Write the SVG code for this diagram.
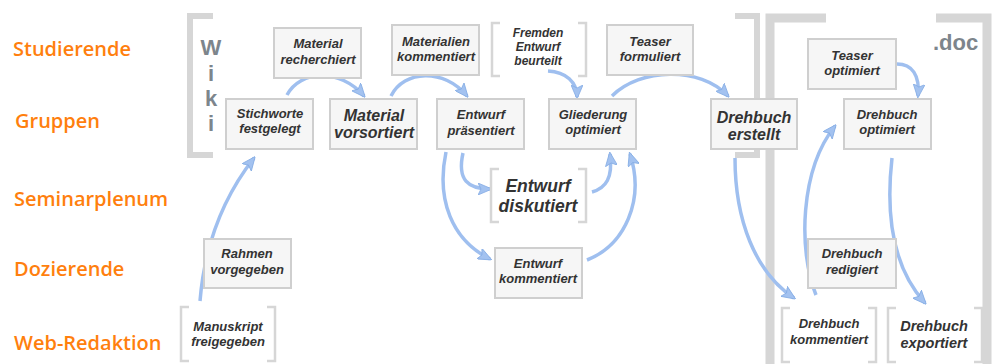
<svg xmlns="http://www.w3.org/2000/svg" width="992" height="364" viewBox="0 0 992 364">
<defs>
<style>
.lane{font-family:"Open Sans","Liberation Sans",sans-serif;font-weight:600;font-size:20px;fill:#ff7f0e}
.big{font-family:"Liberation Sans",Arial,sans-serif;font-weight:bold;font-size:22px;fill:#7d858c}
.box{fill:#f6f6f6;stroke:#cfcfcf;stroke-width:2}
.br{fill:none;stroke:#d6d6d6;stroke-width:2.5}
.wb{fill:none;stroke:#d6d6d6;stroke-width:6}
.db{fill:none;stroke:#d6d6d6;stroke-width:9}
.t{font-family:"Liberation Sans",Arial,sans-serif;font-weight:bold;font-style:italic;font-size:13px;fill:#333;text-anchor:middle}
.t12{font-size:12px}
.t14{font-size:14.5px}
.t16{font-size:16px}
.t17{font-size:17.5px}
.c{fill:none;stroke:#9fbfef;stroke-width:3.5;marker-end:url(#ah)}
</style>
<marker id="ah" viewBox="0 0 14 12" refX="12" refY="6" markerWidth="14" markerHeight="12" markerUnits="userSpaceOnUse" orient="auto">
<path d="M0,0 L14,6 L0,12 L3,6 Z" fill="#a3c2f0" stroke="#84ace4" stroke-width="0.8" stroke-linejoin="round"/>
</marker>
</defs>
<rect width="992" height="364" fill="#ffffff"/>

<g id="lanes">
<text class="lane" x="13" y="56">Studierende</text>
<text class="lane" x="15" y="128">Gruppen</text>
<text class="lane" x="14" y="206">Seminarplenum</text>
<text class="lane" x="14" y="276">Dozierende</text>
<text class="lane" x="14" y="350">Web-Redaktion</text>
</g>

<g id="wiki">
<path class="wb" d="M213,16 H190 V155 H213"/>
<path class="wb" d="M735,16 H757 V155 H735"/>
<text class="big" x="211" y="55" text-anchor="middle">W</text>
<text class="big" x="211" y="81" text-anchor="middle">i</text>
<text class="big" x="211" y="106" text-anchor="middle">k</text>
<text class="big" x="211" y="131" text-anchor="middle">i</text>
</g>

<g id="doc">
<path class="db" d="M826,18 H770 V370"/>
<path class="db" d="M936,18 H987 V370"/>
<text class="big" x="933" y="50">.doc</text>
</g>

<g id="connectors">
<path class="c" d="M200,301 C205,240 225,195 254,158"/>
<path class="c" d="M287,95 C300,70 340,68 364,96"/>
<path class="c" d="M391,96 C404,70 444,68 467,96"/>
<path class="c" d="M548,71 C566,72 577,82 577,97"/>
<path class="c" d="M612,96 C640,68 700,66 728,96"/>
<path class="c" d="M446,152 C436,200 452,240 490,259"/>
<path class="c" d="M463,153 C457,180 468,189 490,189"/>
<path class="c" d="M592,192 C606,188 613,178 610,154"/>
<path class="c" d="M587,260 C625,245 645,200 630,154"/>
<path class="c" d="M735,158 C735,220 755,272 794,298"/>
<path class="c" d="M816,295 C798,250 800,170 835,126"/>
<path class="c" d="M897,64 C912,64 920,75 918,96"/>
<path class="c" d="M892,158 C885,220 895,270 925,303"/>
</g>

<g id="n-stichworte"><rect class="box" x="226" y="99" width="87" height="50"/>
<text class="t" x="270" y="118">Stichworte</text><text class="t" x="270" y="133">festgelegt</text></g>

<g id="n-recherchiert"><rect class="box" x="274" y="28" width="87" height="50"/>
<text class="t" x="318" y="48">Material</text><text class="t" x="318" y="64">recherchiert</text></g>

<g id="n-vorsortiert"><rect class="box" x="330" y="99" width="87" height="50"/>
<text class="t t16" x="374" y="121">Material</text><text class="t t16" x="374" y="138">vorsortiert</text></g>

<g id="n-materialien"><rect class="box" x="392" y="25" width="87" height="50"/>
<text class="t" x="436" y="46">Materialien</text><text class="t" x="436" y="61">kommentiert</text></g>

<g id="n-praesentiert"><rect class="box" x="437" y="99" width="87" height="50"/>
<text class="t" x="481" y="119">Entwurf</text><text class="t" x="481" y="135">präsentiert</text></g>

<g id="n-fremden"><path class="br" d="M500,23 H492 V76 H500 M578,23 H586 V76 H578"/>
<text class="t t12" x="538" y="37">Fremden</text><text class="t t12" x="538" y="51">Entwurf</text><text class="t t12" x="538" y="65">beurteilt</text></g>

<g id="n-gliederung"><rect class="box" x="549" y="99" width="87" height="50"/>
<text class="t" x="593" y="119">Gliederung</text><text class="t" x="593" y="134">optimiert</text></g>

<g id="n-teaser-formuliert"><rect class="box" x="607" y="25" width="86" height="50"/>
<text class="t" x="650" y="46">Teaser</text><text class="t" x="650" y="61">formuliert</text></g>

<g id="n-drehbuch-erstellt"><rect class="box" x="711" y="99" width="86" height="50"/>
<text class="t t16" x="754" y="123">Drehbuch</text><text class="t t16" x="754" y="140">erstellt</text></g>

<g id="n-teaser-optimiert"><rect class="box" x="808" y="39" width="88" height="50"/>
<text class="t" x="852" y="60">Teaser</text><text class="t" x="852" y="75">optimiert</text></g>

<g id="n-drehbuch-optimiert"><rect class="box" x="844" y="99" width="87" height="50"/>
<text class="t" x="887" y="119">Drehbuch</text><text class="t" x="887" y="134">optimiert</text></g>

<g id="n-diskutiert"><path class="br" d="M499,169 H491 V222 H499 M578,169 H586 V222 H578"/>
<text class="t t17" x="538" y="192">Entwurf</text><text class="t t17" x="538" y="212">diskutiert</text></g>

<g id="n-entwurf-kommentiert"><rect class="box" x="495" y="248" width="87" height="50"/>
<text class="t" x="538" y="268">Entwurf</text><text class="t" x="538" y="283">kommentiert</text></g>

<g id="n-rahmen"><rect class="box" x="204" y="239" width="87" height="49"/>
<text class="t" x="247" y="258">Rahmen</text><text class="t" x="247" y="274">vorgegeben</text></g>

<g id="n-redigiert"><rect class="box" x="808" y="239" width="88" height="49"/>
<text class="t" x="852" y="258">Drehbuch</text><text class="t" x="852" y="274">redigiert</text></g>

<g id="n-manuskript"><path class="br" d="M189,307 H181 V361 H189 M267,307 H275 V361 H267"/>
<text class="t" x="228" y="331">Manuskript</text><text class="t" x="228" y="346">freigegeben</text></g>

<g id="n-drehbuch-kommentiert"><path class="br" d="M790,308 H782 V362 H790 M868,308 H876 V362 H868"/>
<text class="t" x="829" y="328">Drehbuch</text><text class="t" x="829" y="344">kommentiert</text></g>

<g id="n-exportiert"><path class="br" d="M896,308 H888 V362 H896 M974,308 H982 V362 H974"/>
<text class="t t14" x="934" y="331">Drehbuch</text><text class="t t14" x="934" y="348">exportiert</text></g>
</svg>
